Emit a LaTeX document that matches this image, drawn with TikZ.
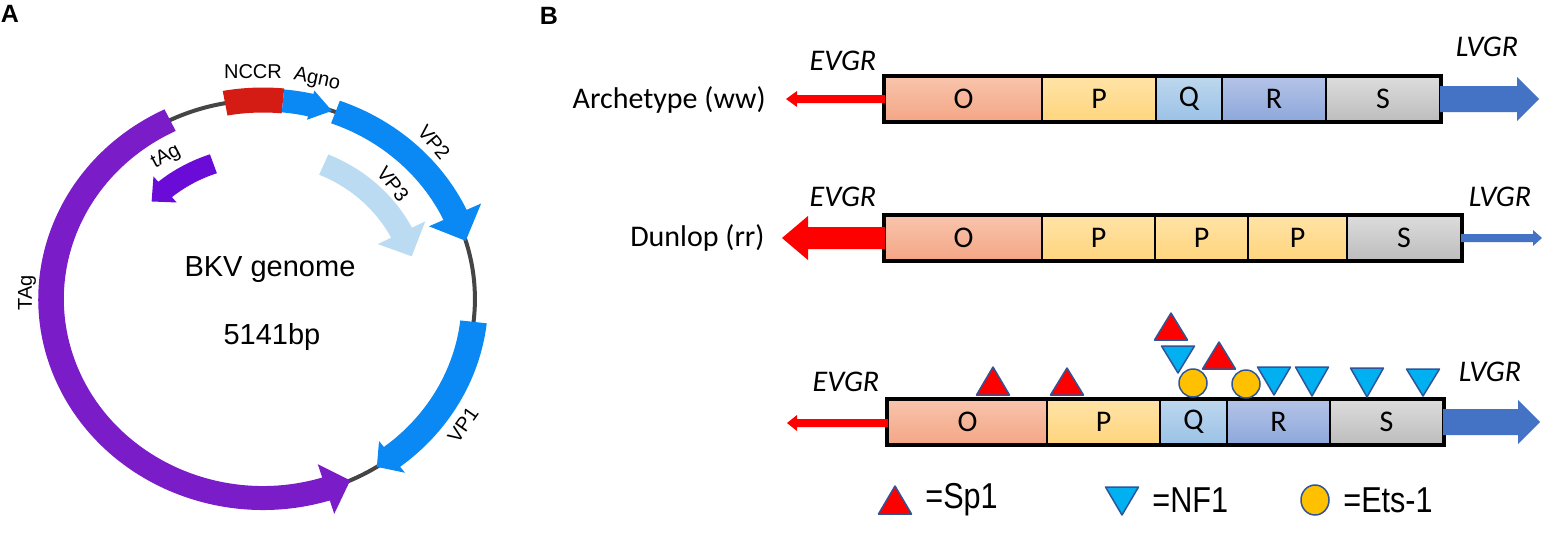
\documentclass[tikz,border=0pt]{standalone}
\usepackage{fontspec}
\setmainfont{Carlito}
\newfontfamily\fa{Liberation Sans}
\definecolor{tagc}{HTML}{7A1CC8}
\definecolor{tagsm}{HTML}{6A0BD8}
\definecolor{nccrc}{HTML}{D41C14}
\definecolor{vpb}{HTML}{0A88F4}
\definecolor{vpthree}{HTML}{BBDBF3}
\definecolor{bbc}{HTML}{454545}
\definecolor{spred}{HTML}{FF0000}
\definecolor{nfblue}{HTML}{00B0F0}
\definecolor{etsy}{HTML}{FFC000}
\definecolor{tfb}{HTML}{2F5597}
\definecolor{lvb}{HTML}{4472C4}
\definecolor{oT}{HTML}{F8C4AC}\definecolor{oB}{HTML}{F4A686}
\definecolor{pT}{HTML}{FFE3A6}\definecolor{pB}{HTML}{FFD57E}
\definecolor{qT}{HTML}{BDD7EE}\definecolor{qB}{HTML}{9BC2E6}
\definecolor{rT}{HTML}{B4C3E7}\definecolor{rB}{HTML}{8DA8DB}
\definecolor{sT}{HTML}{DCDCDC}\definecolor{sB}{HTML}{BDBDBD}
% arc arrow: color, radius, width, start, head base, tip, head width
\newcommand\arcarrow[7]{\fill[#1] ({#4}:{#2+#3/2}) arc[start angle={#4}, end angle={#5}, radius={#2+#3/2}] -- ({#5}:{#2+#7/2}) -- ({#6}:{#2}) -- ({#5}:{#2-#7/2}) -- ({#5}:{#2-#3/2}) arc[start angle={#5}, end angle={#4}, radius={#2-#3/2}] -- cycle;}
\newcommand\arcband[5]{\fill[#1] ({#4}:{#2+#3/2}) arc[start angle={#4}, end angle={#5}, radius={#2+#3/2}] -- ({#5}:{#2-#3/2}) arc[start angle={#5}, end angle={#4}, radius={#2-#3/2}] -- cycle;}
% straight arrow: color, xfrom, xbase, xtip, y, half shaft, half head
\newcommand\harrow[7]{\fill[#1] (#2,{#5-#6}) -- (#3,{#5-#6}) -- (#3,{#5-#7}) -- (#4,#5) -- (#3,{#5+#7}) -- (#3,{#5+#6}) -- (#2,{#5+#6}) -- cycle;}
\newcommand\bcell[7]{\node[cell, top color=#5, bottom color=#6, minimum width={(#3-#2)*0.5pt}] (#1) at ({(#2+#3)/2},#4) {#7};}
\newcommand\sptri[3]{\filldraw[sp] ({#1-16.5},#3) -- (#1,#2) -- ({#1+16.5},#3) -- cycle;}
\newcommand\nftri[3]{\filldraw[nf] ({#1-16.5},#2) -- ({#1+16.5},#2) -- (#1,#3) -- cycle;}
\newcommand\etsc[2]{\filldraw[ets] (#1,#2) ellipse[x radius=14, y radius=14];}
\begin{document}
\begin{tikzpicture}[x=0.5pt,y=-0.5pt,
  cell/.style={draw=black, line width=1.25pt, inner sep=0pt, minimum height=22pt, font=\fontsize{15}{18}\selectfont},
  lab/.style={font=\fontsize{15}{18}\selectfont, inner sep=0pt},
  gr/.style={font=\fontsize{15}{18}\selectfont\itshape, inner sep=0pt},
  plab/.style={font=\fa\fontsize{10}{12}\selectfont, inner sep=0pt},
  big/.style={font=\fa\fontsize{14.5}{17}\selectfont, inner sep=0pt},
  leg/.style={font=\fa\fontsize{18}{20}\selectfont, anchor=west, inner sep=0pt},
  panel/.style={font=\fa\bfseries\fontsize{12.5}{14}\selectfont, inner sep=0pt},
  sp/.style={fill=spred, draw=tfb, line width=0.75pt, line join=round},
  nf/.style={fill=nfblue, draw=tfb, line width=0.75pt, line join=round},
  ets/.style={fill=etsy, draw=tfb, line width=0.75pt}]
\useasboundingbox[fill=white] (0,0) rectangle (1549,553);

% ---------- Panel A ----------
\node[panel] (pa) at (10,14) {A};
\begin{scope}[shift={(263,299)}, xscale=1.065, yscale=-1]
  \draw[bbc, line width=2pt] (0,0) circle[radius=199];
  \arcarrow{tagc}{199}{24}{116}{287.3}{294.3}{52}
  \arcband{nccrc}{199}{25}{100.3}{84.6}
  \arcarrow{vpb}{199}{23}{84.6}{77}{71}{30}
  \arcarrow{vpb}{199}{24}{70}{25}{17}{54}
  \arcarrow{vpb}{199}{25}{-6.6}{-52.5}{-57.5}{40}
  \arcarrow{tagsm}{143}{20}{109}{130}{137}{34}
  \arcarrow{vpthree}{146}{22}{67}{27}{17}{50}
\end{scope}
\node[plab] (nccr) at (253,72) {NCCR};
\node[plab, rotate=-12] (agno) at (317,80) {Agno};
\node[plab, rotate=-50] (vp2) at (434,142) {VP2};
\node[plab, rotate=-52] (vp3) at (393,184) {VP3};
\node[plab, rotate=28] (tag) at (166,157) {tAg};
\node[plab, rotate=90] (TAg) at (27,293) {TAg};
\node[plab, rotate=55] (vp1) at (463,425) {VP1};
\node[big] (bkv) at (270,270) {BKV genome};
\node[big] (bp) at (272,337) {5141bp};

% ---------- Panel B ----------
\node[panel] (pb) at (549,16) {B};

% row 1: Archetype
\bcell{a1}{885}{1042}{99}{oT}{oB}{O}
\bcell{a2}{1042}{1156}{99}{pT}{pB}{P}
\bcell{a3}{1156}{1222}{99}{qT}{qB}{Q}
\bcell{a4}{1222}{1326}{99}{rT}{rB}{R}
\bcell{a5}{1326}{1440}{99}{sT}{sB}{S}
\draw[line width=1.5pt] (a1.north west) rectangle (a5.south east);
\harrow{spred}{885}{797}{786}{99}{4}{8}
\harrow{lvb}{1440}{1517}{1539}{99}{13}{22}
\node[lab, anchor=east] (arch) at (766,100) {Archetype (ww)};
\node[gr] (e1) at (843,61) {EVGR};
\node[gr] (l1) at (1487,47) {LVGR};

% row 2: Dunlop
\bcell{d1}{885}{1042}{238}{oT}{oB}{O}
\bcell{d2}{1042}{1155}{238}{pT}{pB}{P}
\bcell{d3}{1155}{1248}{238}{pT}{pB}{P}
\bcell{d4}{1248}{1347}{238}{pT}{pB}{P}
\bcell{d5}{1347}{1461}{238}{sT}{sB}{S}
\draw[line width=1.5pt] (d1.north west) rectangle (d5.south east);
\harrow{spred}{885}{808}{782}{238}{11}{22}
\harrow{lvb}{1461}{1533}{1542}{238}{4}{8}
\node[lab, anchor=east] (dun) at (765,238) {Dunlop (rr)};
\node[gr] (e2) at (843,197) {EVGR};
\node[gr] (l2) at (1500,197) {LVGR};

% row 3: binding sites
\bcell{b1}{888}{1047}{422}{oT}{oB}{O}
\bcell{b2}{1047}{1160}{422}{pT}{pB}{P}
\bcell{b3}{1160}{1227}{422}{qT}{qB}{Q}
\bcell{b4}{1227}{1330}{422}{rT}{rB}{R}
\bcell{b5}{1330}{1443}{422}{sT}{sB}{S}
\draw[line width=1.5pt] (b1.north west) rectangle (b5.south east);
\harrow{spred}{888}{797}{787}{423}{4}{8}
\harrow{lvb}{1443}{1518}{1540}{422}{13}{22}
\node[gr] (e3) at (846,382) {EVGR};
\node[gr] (l3) at (1490,372) {LVGR};

\sptri{993}{367}{395}
\sptri{1067}{368}{395}
\sptri{1171}{313}{340}
\sptri{1219}{342}{369}
\nftri{1178}{346}{373}
\nftri{1274}{367}{395}
\nftri{1312}{367}{396}
\nftri{1367}{368}{397}
\nftri{1423}{369}{396}
\etsc{1193}{383}
\etsc{1246}{384}

% legend
\sptri{895}{486}{514}
\node[leg] (lsp) at (925,500) {\scalebox{0.85}[1]{=Sp1}};
\nftri{1122}{487}{515}
\node[leg] (lnf) at (1152,500) {\scalebox{0.85}[1]{=NF1}};
\filldraw[ets] (1315,500) ellipse[x radius=14, y radius=15];
\node[leg] (lets) at (1343,500) {\scalebox{0.85}[1]{=Ets-1}};
\end{tikzpicture}
\end{document}
